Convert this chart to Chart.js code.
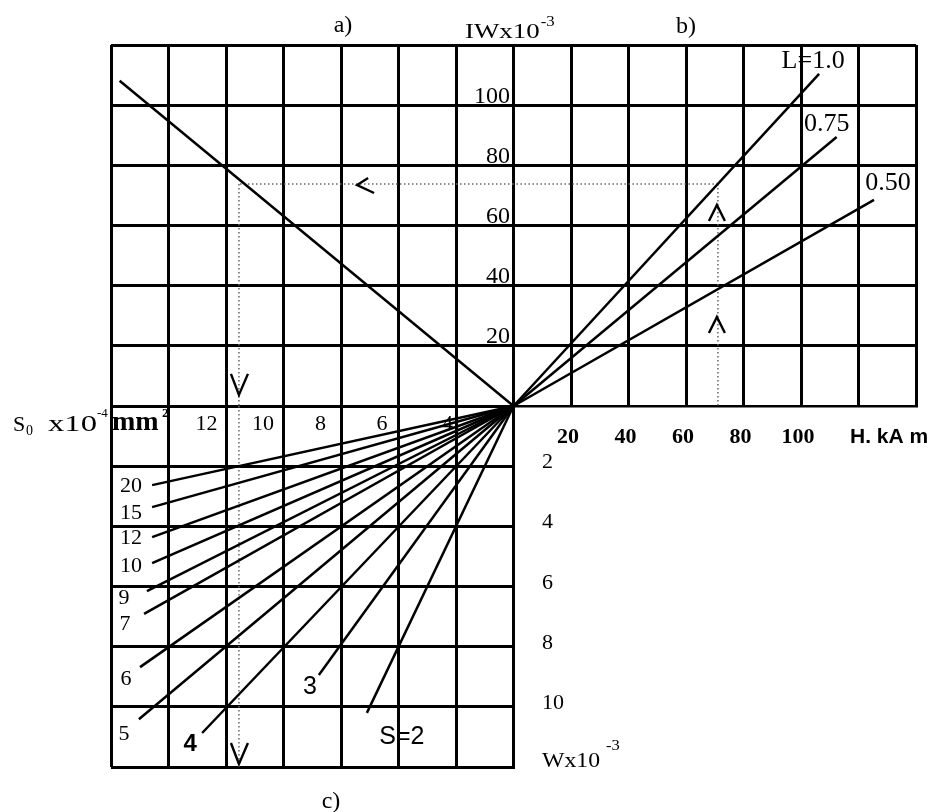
<!DOCTYPE html>
<html>
<head>
<meta charset="utf-8">
<script src="https://cdn.jsdelivr.net/npm/chart.js@4.4.1/dist/chart.umd.min.js"></script>
<style>
  html, body { margin: 0; padding: 0; background: #fff; }
  #wrap { width: 936px; height: 812px; }
</style>
</head>
<body>
<div id="wrap"><canvas id="chart" width="936" height="812"></canvas></div>
<script>
// a) S0 -> IW
const aLineS0 = [0, 13.7];
const aLineIW = [0, 108.1];

// b) H -> IW, one line per L
const lNames = ['L=1.0', '0.75', '0.50'];
const lEndH = [106.3, 112.4, 125.4];
const lEndIW = [110.4, 89.4, 68.5];

// c) S0 -> W, one line per S
const sNames = ['20', '15', '12', '10', '9', '7', '6', '5', '4', '3', 'S=2'];
const sEndS0 = [12.57, 12.57, 12.57, 12.57, 12.75, 12.85, 12.99, 13.03, 10.83, 6.77, 5.10];
const sEndW = [2.63, 3.36, 4.36, 5.22, 6.15, 6.91, 8.68, 10.41, 10.87, 8.94, 10.20];

// worked example, dotted path
const exH = 71.1;
const exIW = 73.8;
const exS0 = 9.55;
const exWEnd = 12;
const upArrowIW = [66.8, 29.6];
const leftArrowS0 = 5.44;
const downArrowIW = 3.7;
const downArrowW = 11.9;

// tick labels
const hTicks = [20, 40, 60, 80, 100];
const iwTicks = [20, 40, 60, 80, 100];
const s0Ticks = [12, 10, 8, 6, 4];
const wTicks = [2, 4, 6, 8, 10];

// label placement (pixels)
const s0TickDx = [38, 37, 37, 41, 49];
const lLabelOff = [[-6, -13], [-10, -13], [14, -17]];
const sLabelOff = [[-21, 1], [-21, 6], [-21, 1], [-21, 3], [-23, 7], [-19, 10], [-14, 12], [-15, 15], [-12, 11], [-9, 12], [35, 24]];
const sLabelFont = ['s', 's', 's', 's', 's', 's', 's', 's', 'b', 'a', 'a'];

const SERIF = '"Liberation Serif", "DejaVu Serif", serif';
const SANS = '"Liberation Sans", Arial, sans-serif';

function seg(x1, y1, x2, y2, xId, yId, dotted) {
  return {
    data: [{ x: x1, y: y1 }, { x: x2, y: y2 }],
    xAxisID: xId,
    yAxisID: yId,
    showLine: true,
    pointRadius: 0,
    borderColor: dotted ? '#666' : '#000',
    borderWidth: dotted ? 1.5 : 2.5,
    borderDash: dotted ? [1.5, 2.5] : [],
    tension: 0
  };
}

const datasets = [];
datasets.push(seg(aLineS0[0], aLineIW[0], aLineS0[1], aLineIW[1], 'xS', 'yIW'));
lEndH.forEach((h, i) => datasets.push(seg(0, 0, h, lEndIW[i], 'xH', 'yIW')));
sEndS0.forEach((s, i) => datasets.push(seg(0, 0, s, sEndW[i], 'xS', 'yW')));
datasets.push(seg(exH, exIW, 0, exIW, 'xH', 'yIW', true));
datasets.push(seg(0, exIW, exS0, exIW, 'xS', 'yIW', true));
datasets.push(seg(exH, exIW, exH, 0, 'xH', 'yIW', true));
datasets.push(seg(exS0, exIW, exS0, 0, 'xS', 'yIW', true));
datasets.push(seg(exS0, 0, exS0, exWEnd, 'xS', 'yW', true));

function text(ctx, s, x, y, font, align, base) {
  ctx.font = font;
  ctx.textAlign = align || 'left';
  ctx.textBaseline = base || 'alphabetic';
  ctx.fillText(s, x, y);
}

// left aligned text stretched sideways, returns drawn width
function wide(ctx, s, x, y, font, sx) {
  ctx.save();
  ctx.translate(x, y);
  ctx.scale(sx, 1);
  ctx.font = font;
  ctx.textAlign = 'left';
  ctx.textBaseline = 'alphabetic';
  ctx.fillText(s, 0, 0);
  const w = ctx.measureText(s).width * sx;
  ctx.restore();
  return w;
}

function chevron(ctx, x, y, dir) {
  ctx.beginPath();
  if (dir === 'left') {
    ctx.moveTo(x + 11, y - 7); ctx.lineTo(x, y); ctx.lineTo(x + 17, y + 8);
  } else if (dir === 'up') {
    ctx.moveTo(x - 8, y + 16); ctx.lineTo(x, y); ctx.lineTo(x + 8, y + 16);
  } else {
    ctx.moveTo(x - 8, y - 21); ctx.lineTo(x, y); ctx.lineTo(x + 9, y - 21);
  }
  ctx.stroke();
}

const nomogram = {
  id: 'nomogram',
  beforeDatasetsDraw(chart) {
    const { ctx, chartArea: a, scales } = chart;
    const xH = scales.xH, yIW = scales.yIW, xS = scales.xS;
    const ox = xH.getPixelForValue(0);
    const oy = yIW.getPixelForValue(0);
    ctx.save();
    // no grid in the lower right quarter
    ctx.fillStyle = '#fff';
    ctx.fillRect(ox + 1.5, oy + 1.5, a.right - ox + 20, a.bottom - oy + 20);
    ctx.fillStyle = '#000';
    // S0 labels sit under the fan of lines
    s0Ticks.forEach((v, i) => {
      text(ctx, String(v), xS.getPixelForValue(v) + s0TickDx[i], oy + 24, '22px ' + SERIF, 'center');
    });
    ctx.restore();
  },
  afterDatasetsDraw(chart) {
    const { ctx, chartArea: a, scales } = chart;
    const xH = scales.xH, yIW = scales.yIW, xS = scales.xS, yW = scales.yW;
    const ox = xH.getPixelForValue(0);
    const oy = yIW.getPixelForValue(0);
    ctx.save();
    ctx.fillStyle = '#000';

    iwTicks.forEach(v => {
      text(ctx, String(v), ox - 3.5, yIW.getPixelForValue(v) - 2.5, '24px ' + SERIF, 'right');
    });
    hTicks.forEach(v => {
      text(ctx, String(v), xH.getPixelForValue(v) - 3, oy + 37, 'bold 22px ' + SERIF, 'center');
    });
    wTicks.forEach(v => {
      text(ctx, String(v), ox + 28.5, yW.getPixelForValue(v) + 2, '22px ' + SERIF, 'left');
    });

    text(ctx, 'a)', 343, 32, '24px ' + SERIF, 'center');
    text(ctx, 'b)', 686, 33, '24px ' + SERIF, 'center');
    text(ctx, 'c)', 331, 808, '24px ' + SERIF, 'center');

    let w = wide(ctx, 'IWx10', 465, 38, '21px ' + SERIF, 1.28);
    wide(ctx, '-3', 465 + w + 1, 26, '14px ' + SERIF, 1.2);
    w = wide(ctx, 'Wx10', ox + 28.5, a.bottom, '22px ' + SERIF, 1.08);
    wide(ctx, '-3', ox + 28.5 + w + 6, a.bottom - 17, '15px ' + SERIF, 1.1);
    text(ctx, 'H. kA m', 850, oy + 37, 'bold 21px ' + SANS, 'left');

    // S0 x10^-4 mm^2
    wide(ctx, 'S', 13, oy + 25, '22px ' + SERIF, 1);
    wide(ctx, '0', 26, oy + 29, '14px ' + SERIF, 1);
    wide(ctx, 'x10', 48, oy + 25, '24px ' + SERIF, 1.36);
    wide(ctx, '-4', 97, oy + 11, '13px ' + SERIF, 1);
    wide(ctx, 'mm', 112, oy + 24, 'bold 28px ' + SERIF, 1);
    wide(ctx, '2', 162, oy + 11, 'bold 13px ' + SERIF, 1);

    lNames.forEach((n, i) => {
      const x = xH.getPixelForValue(lEndH[i]) + lLabelOff[i][0];
      const y = yIW.getPixelForValue(lEndIW[i]) + lLabelOff[i][1];
      text(ctx, n, x, y, '26px ' + SERIF, 'center', 'middle');
    });
    sNames.forEach((n, i) => {
      const x = xS.getPixelForValue(sEndS0[i]) + sLabelOff[i][0];
      const y = yW.getPixelForValue(sEndW[i]) + sLabelOff[i][1];
      const f = sLabelFont[i] === 's' ? '22px ' + SERIF : sLabelFont[i] === 'b' ? 'bold 24px ' + SANS : '25px ' + SANS;
      text(ctx, n, x, y, f, 'center', 'middle');
    });

    ctx.strokeStyle = '#000';
    ctx.lineWidth = 2.4;
    ctx.lineJoin = 'miter';
    chevron(ctx, xS.getPixelForValue(leftArrowS0), yIW.getPixelForValue(exIW) + 1, 'left');
    upArrowIW.forEach(v => chevron(ctx, xH.getPixelForValue(exH) - 1, yIW.getPixelForValue(v), 'up'));
    chevron(ctx, xS.getPixelForValue(exS0), yIW.getPixelForValue(downArrowIW), 'down');
    chevron(ctx, xS.getPixelForValue(exS0), yW.getPixelForValue(downArrowW), 'down');
    ctx.restore();
  }
};

const gridAxis = (min, max, pos) => ({
  type: 'linear',
  position: pos,
  min: min,
  max: max,
  grid: { color: '#000', lineWidth: 3, drawTicks: false },
  border: { display: false },
  ticks: { display: false, stepSize: 20 }
});

new Chart(document.getElementById('chart'), {
  type: 'scatter',
  data: { datasets: datasets },
  options: {
    responsive: false,
    animation: false,
    layout: { padding: { left: 111, top: 45, right: 20, bottom: 45 } },
    plugins: { legend: { display: false }, tooltip: { enabled: false } },
    scales: {
      xH: gridAxis(-140, 140, 'bottom'),
      yIW: gridAxis(-120, 120, 'left'),
      xS: { type: 'linear', display: false, min: -14, max: 14, reverse: true },
      yW: { type: 'linear', display: false, min: -12, max: 12, reverse: true }
    }
  },
  plugins: [nomogram]
});
</script>
</body>
</html>
